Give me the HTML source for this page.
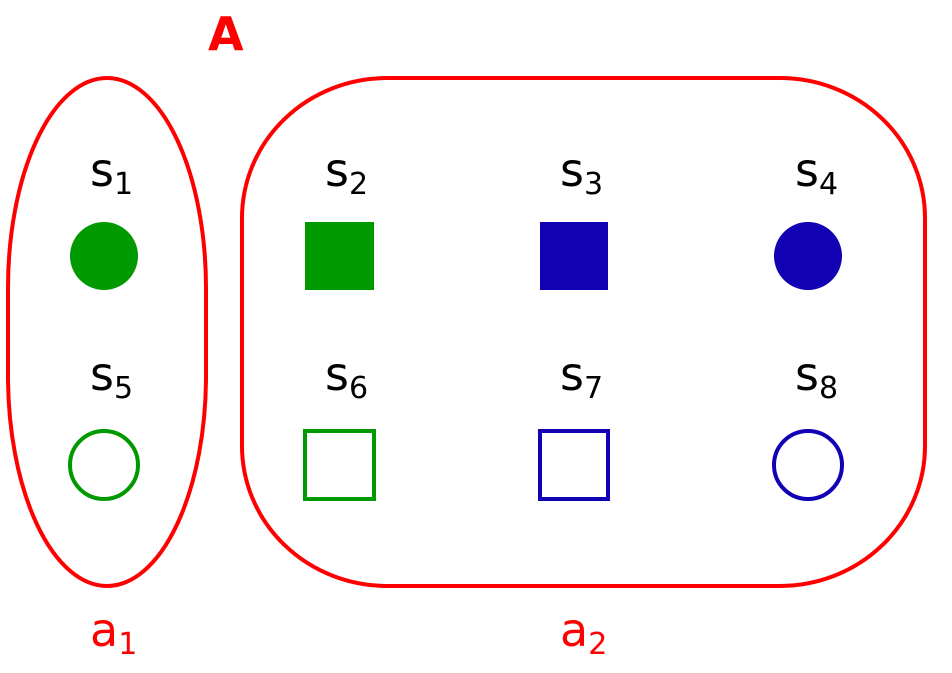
<!DOCTYPE html>
<html><head><meta charset="utf-8"><style>html,body{margin:0;padding:0;background:#fff}svg{display:block}</style></head>
<body>
<svg width="952" height="673" viewBox="0 0 952 673" xmlns="http://www.w3.org/2000/svg" font-family="DejaVu Sans, Liberation Sans, sans-serif">
<text x="208" y="50" font-size="46" font-weight="bold" fill="#ff0000">A</text>
<rect x="8" y="78" width="198" height="508" rx="99" ry="210" fill="none" stroke="#ff0000" stroke-width="4"/>
<rect x="242" y="78" width="683" height="508" rx="145" ry="140" fill="none" stroke="#ff0000" stroke-width="4"/>
<g font-size="46" fill="#000">
<text x="90" y="186">s<tspan font-size="30" dy="8">1</tspan></text>
<text x="325" y="186">s<tspan font-size="30" dy="8">2</tspan></text>
<text x="560" y="186">s<tspan font-size="30" dy="8">3</tspan></text>
<text x="795" y="186">s<tspan font-size="30" dy="8">4</tspan></text>
<text x="90" y="390">s<tspan font-size="30" dy="8">5</tspan></text>
<text x="325" y="390">s<tspan font-size="30" dy="8">6</tspan></text>
<text x="560" y="390">s<tspan font-size="30" dy="8">7</tspan></text>
<text x="795" y="390">s<tspan font-size="30" dy="8">8</tspan></text>
</g>
<g font-size="46" fill="#ff0000">
<text x="90" y="646">a<tspan font-size="30" dy="8">1</tspan></text>
<text x="560" y="646">a<tspan font-size="30" dy="8">2</tspan></text>
</g>
<circle cx="104" cy="256" r="34" fill="#009900"/>
<rect x="305" y="222" width="69" height="68" fill="#009900"/>
<rect x="540" y="222" width="68" height="68" fill="#1100b4"/>
<circle cx="808" cy="256" r="34" fill="#1100b4"/>
<circle cx="104" cy="465" r="34" fill="none" stroke="#009900" stroke-width="4"/>
<rect x="305" y="431" width="69" height="68" fill="none" stroke="#009900" stroke-width="4"/>
<rect x="540" y="431" width="68" height="68" fill="none" stroke="#1100b4" stroke-width="4"/>
<circle cx="808" cy="465" r="34" fill="none" stroke="#1100b4" stroke-width="4"/>
</svg>
</body></html>
